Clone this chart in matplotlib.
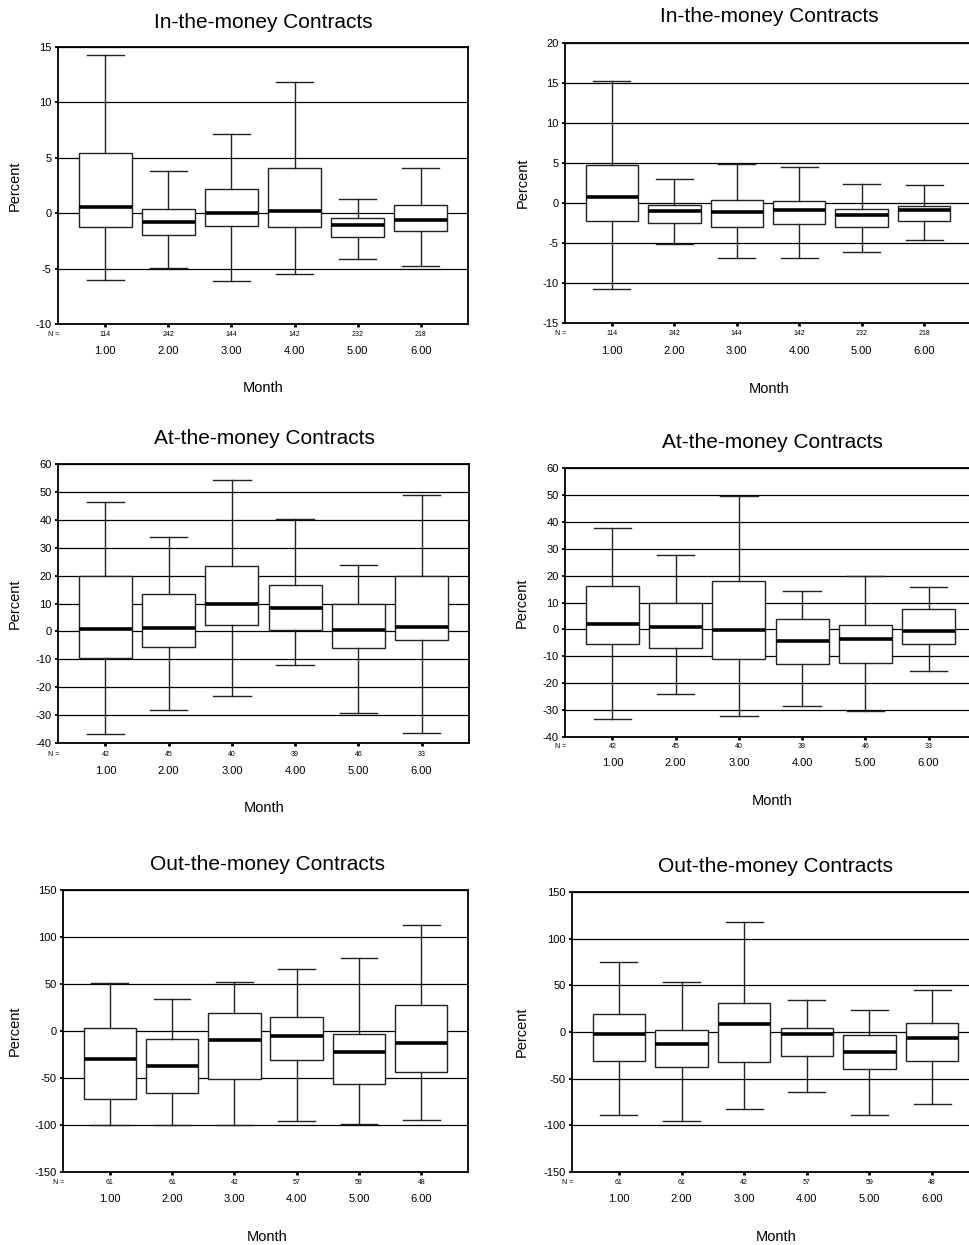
import matplotlib
matplotlib.use("Agg")
import matplotlib.pyplot as plt
from matplotlib.transforms import blended_transform_factory

plt.rcParams['font.family'] = ['Liberation Sans', 'DejaVu Sans']
plt.rcParams['axes.unicode_minus'] = False

# ---------------- data ----------------
months = [1, 2, 3, 4, 5, 6]
month_labels = ['1.00', '2.00', '3.00', '4.00', '5.00', '6.00']

itm_n = [114, 242, 144, 142, 232, 218]
atm_n = [42, 45, 40, 39, 46, 33]
otm_n = [61, 61, 42, 57, 59, 48]

# In-the-money, left
itm_l_whislo = [-6.03, -4.98, -6.15, -5.46, -4.16, -4.77]
itm_l_q1 = [-1.25, -1.97, -1.19, -1.25, -2.15, -1.61]
itm_l_med = [0.56, -0.79, 0.0, 0.2, -1.09, -0.61]
itm_l_q3 = [5.46, 0.38, 2.15, 4.08, -0.46, 0.77]
itm_l_whishi = [14.25, 3.84, 7.12, 11.84, 1.28, 4.08]

# In-the-money, right
itm_r_whislo = [-10.8, -5.11, -6.86, -6.86, -6.15, -4.65]
itm_r_q1 = [-2.2, -2.49, -3.03, -2.62, -3.03, -2.2]
itm_r_med = [0.75, -1.04, -1.16, -0.91, -1.45, -0.91]
itm_r_q3 = [4.74, -0.29, 0.37, 0.21, -0.71, -0.33]
itm_r_whishi = [15.25, 2.95, 4.9, 4.45, 2.41, 2.29]

# At-the-money, left
atm_l_whislo = [-36.7, -28.2, -23.1, -12.0, -29.1, -36.4]
atm_l_q1 = [-9.6, -5.7, 2.4, 0.5, -6.1, -3.2]
atm_l_med = [0.7, 1.2, 9.8, 8.3, 0.5, 1.7]
atm_l_q3 = [19.7, 13.5, 23.6, 16.5, 9.9, 19.9]
atm_l_whishi = [46.5, 34.0, 54.2, 40.3, 23.8, 49.0]

# At-the-money, right
atm_r_whislo = [-33.4, -24.2, -32.1, -28.3, -30.3, -15.5]
atm_r_q1 = [-5.3, -7.0, -11.1, -12.7, -12.4, -5.3]
atm_r_med = [2.0, 1.0, -0.1, -4.3, -3.6, -0.5]
atm_r_q3 = [16.3, 9.9, 17.9, 4.0, 1.6, 7.4]
atm_r_whishi = [37.8, 27.7, 49.6, 14.1, 19.9, 15.6]

# Out-the-money, left
otm_l_whislo = [-99.8, -99.8, -99.8, -96.2, -99.0, -94.8]
otm_l_q1 = [-72.8, -65.7, -50.8, -30.5, -56.4, -43.3]
otm_l_med = [-30.2, -37.3, -9.2, -5.7, -22.0, -12.4]
otm_l_q3 = [2.8, -8.9, 19.2, 14.9, -2.8, 27.7]
otm_l_whishi = [50.8, 34.4, 52.2, 66.4, 77.7, 112.9]

# Out-the-money, right
otm_r_whislo = [-89.3, -95.0, -82.1, -64.6, -89.3, -77.5]
otm_r_q1 = [-30.7, -37.9, -31.8, -26.1, -40.0, -30.7]
otm_r_med = [-1.8, -12.5, 8.6, -1.8, -21.4, -6.8]
otm_r_q3 = [19.3, 1.8, 30.7, 3.9, -2.9, 9.6]
otm_r_whishi = [75.4, 53.2, 117.5, 34.3, 23.9, 44.6]

titles = ['In-the-money Contracts', 'In-the-money Contracts',
          'At-the-money Contracts', 'At-the-money Contracts',
          'Out-the-money Contracts', 'Out-the-money Contracts']

# ---------------- layout ----------------
W, H = 969, 1245
fig = plt.figure(figsize=(W / 100, H / 100), dpi=100)

# box=(left, right, top, bottom) px; tpx title above; mpx Month below;
# ppx Percent left; npx N row below; lpx tick labels below; tx title centre x
layouts = [
    dict(box=(58, 468, 47, 324), ylim=(-10, 15), step=5, tpx=25, mpx=64, ppx=43, npx=11, lpx=28, tx=263),
    dict(box=(565, 971, 43, 323), ylim=(-15, 20), step=5, tpx=26, mpx=66, ppx=42, npx=11, lpx=29, tx=769),
    dict(box=(58, 469, 464, 743), ylim=(-40, 60), step=10, tpx=26, mpx=65, ppx=43, npx=11, lpx=29, tx=264),
    dict(box=(565, 976, 468, 737), ylim=(-40, 60), step=10, tpx=26, mpx=64, ppx=43, npx=10, lpx=27, tx=772),
    dict(box=(63, 468, 890, 1172), ylim=(-150, 150), step=50, tpx=26, mpx=65, ppx=48, npx=10, lpx=28, tx=267),
    dict(box=(572, 979, 892, 1172), ylim=(-150, 150), step=50, tpx=26, mpx=65, ppx=50, npx=11, lpx=28, tx=776),
]

panels = [
    (itm_n, itm_l_whislo, itm_l_q1, itm_l_med, itm_l_q3, itm_l_whishi),
    (itm_n, itm_r_whislo, itm_r_q1, itm_r_med, itm_r_q3, itm_r_whishi),
    (atm_n, atm_l_whislo, atm_l_q1, atm_l_med, atm_l_q3, atm_l_whishi),
    (atm_n, atm_r_whislo, atm_r_q1, atm_r_med, atm_r_q3, atm_r_whishi),
    (otm_n, otm_l_whislo, otm_l_q1, otm_l_med, otm_l_q3, otm_l_whishi),
    (otm_n, otm_r_whislo, otm_r_q1, otm_r_med, otm_r_q3, otm_r_whishi),
]

for title, lay, (ns, wlo, q1, med, q3, whi) in zip(titles, layouts, panels):
    l, r, t, b = lay['box']
    wpx, hpx = r - l, b - t
    ax = fig.add_axes([l / W, 1 - b / H, wpx / W, hpx / H])
    stats = [dict(whislo=a, q1=c, med=m, q3=d, whishi=e, fliers=[])
             for a, c, m, d, e in zip(wlo, q1, med, q3, whi)]
    ax.bxp(stats, positions=months, widths=0.84, showfliers=False,
           patch_artist=True, manage_ticks=False,
           boxprops=dict(facecolor='white', edgecolor='#222222', linewidth=1.0),
           medianprops=dict(color='black', linewidth=2.6),
           whiskerprops=dict(color='#222222', linewidth=1.0),
           capprops=dict(color='#222222', linewidth=1.0),
           capwidths=0.59, zorder=3)
    ax.set_xlim(0.25, 6.75)
    y0, y1 = lay['ylim']
    ax.set_ylim(y0, y1)
    ax.set_yticks(list(range(y0, y1 + 1, lay['step'])))
    ax.yaxis.grid(True, color='black', linewidth=0.9)
    ax.set_axisbelow(True)
    for s in ax.spines.values():
        s.set_color('black')
        s.set_linewidth(1.3)
    ax.tick_params(axis='y', direction='out', length=2.5, width=1.3, pad=2,
                   labelsize=8)
    ax.set_xticks(months, month_labels)
    ax.tick_params(axis='x', direction='out', length=2.5, width=2,
                   pad=(lay['lpx'] - 2.5 - 6.5) * 0.72, labelsize=8)

    ax.set_title(title, fontsize=15, x=(lay['tx'] - l) / wpx,
                 y=1 + lay['tpx'] / hpx, va='center', pad=0)
    ax.set_xlabel('Month', fontsize=10.5)
    ax.xaxis.set_label_coords((lay['tx'] - l) / wpx, -lay['mpx'] / hpx)
    ax.xaxis.label.set_va('center')
    ax.set_ylabel('Percent', fontsize=10.5)
    ax.yaxis.set_label_coords(-lay['ppx'] / wpx, 0.5)
    ax.yaxis.label.set_va('center')

    trans = blended_transform_factory(ax.transData, ax.transAxes)
    ny = -lay['npx'] / hpx
    for xp, nv in zip(months, ns):
        ax.text(xp, ny, str(nv), transform=trans, ha='center', va='center',
                fontsize=5)
    ax.text(-4 / wpx, ny, 'N =', transform=ax.transAxes, ha='center',
            va='center', fontsize=5)

fig.savefig('out.png', dpi=100)
